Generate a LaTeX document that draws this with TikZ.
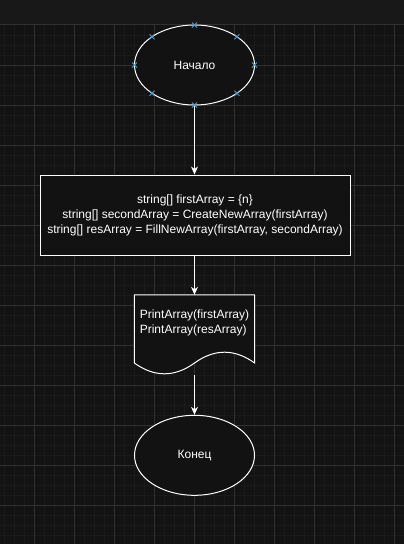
\documentclass[tikz,border=0pt]{standalone}
\usepackage{fontspec}
\setmainfont{Liberation Sans}
\usetikzlibrary{arrows.meta,shapes.geometric}
\definecolor{bgmain}{HTML}{131313}
\definecolor{bgtop}{HTML}{181818}
\definecolor{gridmajor}{HTML}{303030}
\definecolor{gridminor}{HTML}{1A1A1A}
\definecolor{shapefill}{HTML}{121212}
\definecolor{handle}{HTML}{4A9FD8}
\tikzset{
  flowline/.style={draw=white, line width=1pt},
  conn/.style={flowline, -{Stealth[length=8pt,width=7pt,inset=2.5pt]}},
  termshape/.style={ellipse, draw=white, line width=1pt, fill=shapefill, minimum width=120pt, minimum height=80pt, inner sep=0pt, text=white, font=\fontsize{12pt}{15pt}\selectfont},
  procshape/.style={rectangle, draw=white, line width=1pt, fill=shapefill, minimum width=310pt, minimum height=80pt, inner sep=0pt, text=white, align=center, font=\fontsize{12pt}{15pt}\selectfont},
  docbox/.style={rectangle, minimum width=120pt, minimum height=80pt, inner sep=0pt},
  txt/.style={text=white, inner sep=0pt, font=\fontsize{12pt}{15pt}\selectfont},
  handlemark/.style={draw=handle, line width=0.9pt},
}
\begin{document}
\begin{tikzpicture}[x=1pt,y=-1pt]
\useasboundingbox (0,0) rectangle (404,544);
% background
\fill[bgmain] (0,0) rectangle (404,544);
% minor grid
\foreach \gx in {4,14,...,404} \draw[gridminor, line width=0.6pt] (\gx,24) -- (\gx,544);
\foreach \gy in {35,45,...,544} \draw[gridminor, line width=0.6pt] (0,\gy) -- (404,\gy);
% major grid
\foreach \gx in {34,74,...,394} \draw[gridmajor, line width=0.8pt] (\gx,24) -- (\gx,544);
\foreach \gy in {65,105,...,544} \draw[gridmajor, line width=0.8pt] (0,\gy) -- (404,\gy);
% top band
\fill[bgtop] (0,0) rectangle (404,24);
\draw[gridmajor, line width=1pt] (0,24.5) -- (404,24.5);

% shapes
\node[termshape] (start) at (194.5,65) {Начало};
\node[procshape] (proc) at (195,215) {string[] firstArray = \{n\}\\string[] secondArray = CreateNewArray(firstArray)\\string[] resArray = FillNewArray(firstArray, secondArray)};
\node[docbox] (doc) at (194.5,335) {};
\filldraw[flowline, fill=shapefill]
  (doc.north west) -- (doc.north east) -- ([yshift=-28pt]doc.east)
  .. controls ([xshift=40pt,yshift=-13.6pt]doc.center) and ([xshift=20pt,yshift=-13.6pt]doc.center) .. ([yshift=-28pt]doc.center)
  .. controls ([xshift=-20pt,yshift=-42.4pt]doc.center) and ([xshift=-40pt,yshift=-42.4pt]doc.center) .. ([yshift=-28pt]doc.west)
  -- cycle;
\node[txt, align=left] (doctext) at ([yshift=12pt]doc.center) {PrintArray(firstArray)\\PrintArray(resArray)};
\node[termshape] (finish) at (194.5,455.3) {Конец};

% connectors
\draw[conn] (start.south) -- (proc.north -| start.south);
\draw[conn] (proc.south -| doc.north) -- (doc.north);
\draw[conn] (doc.south) -- (finish.north);

% connection handles on start ellipse
\foreach \ang in {0,45,...,315} {
  \path (start.center) ++(\ang:60pt and 40pt) coordinate (h);
  \draw[handlemark] ([xshift=-2.5pt,yshift=-2.5pt]h) -- ([xshift=2.5pt,yshift=2.5pt]h);
  \draw[handlemark] ([xshift=-2.5pt,yshift=2.5pt]h) -- ([xshift=2.5pt,yshift=-2.5pt]h);
}
\end{tikzpicture}
\end{document}
